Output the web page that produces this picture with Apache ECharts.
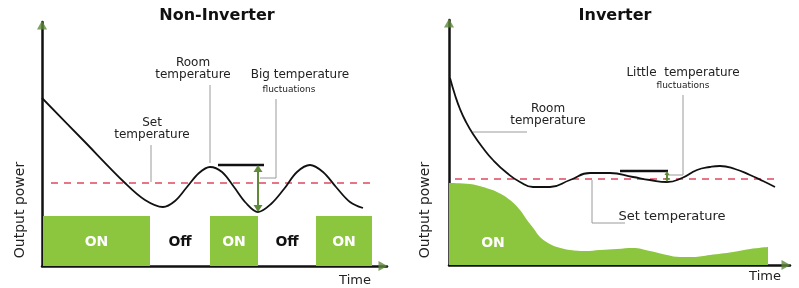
<!DOCTYPE html>
<html>
<head>
<meta charset="utf-8">
<script src="https://cdn.jsdelivr.net/npm/echarts@6/dist/echarts.min.js"></script>
<style>
  html, body { margin: 0; padding: 0; background: #fff; }
  #chart { width: 799px; height: 288px; }
</style>
</head>
<body>
<div id="chart"></div>
<script>
// values: [time, level] in arbitrary units
// --- Non-Inverter ---
const nonInvRoomTemp = [[0,168],[41,126],[83,83],[103,66],[121,59],[133,65],[145,79],[157,93],[168,99],[180,94],[192,79],[204,63],[216,54],[229,62],[242,77],[255,94],[268,101],[281,94],[294,79],[308,64],[321,58]];
const nonInvSetTemp = [[9,83],[330,83]];
const nonInvOn = [[1,108],[168,216],[274,330]];
const nonInvOff = [[108,168],[216,274]];
const nonInvOnLevel = 50;
const nonInvSwingBar = [[176,101],[222,101]];
const nonInvSwing = [[216,97.5],[216,57.5]];
const nonInvSetLeader = [[109,121],[109,84]];
const nonInvRoomLeader = [[168,181],[168,103]];
const nonInvBigLeader = [[234,167],[234,88],[218,88]];

// --- Inverter ---
const invRoomTemp = [[1,187],[6,170],[11,156],[17,143],[24,131],[34,117],[44,105],[58,92],[71,83],[84,78],[101,78],[121,85],[141,92],[161,92],[184,88],[201,85],[218,83],[233,87],[248,95],[261,98],[271,99],[286,96],[301,90],[314,84],[326,78]];
const invSetTemp = [[6,86],[328,86]];
const invPower = [[0,82],[21,81],[34,78],[48,73],[61,65],[71,55],[78,45],[85,36],[91,28],[99,22],[108,18],[121,15],[136,14],[151,15],[168,16],[184,17],[201,14],[218,10],[231,8],[244,8],[261,10],[284,13],[301,16],[319,18]];
const invSwingBar = [[171,94],[219,94]];
const invSwing = [[218,92],[218,85]];
const invRoomLeader = [[24,133],[78,133]];
const invSetLeader = [[143,85],[143,42],[176,42]];
const invLittleLeader = [[234,170],[234,90],[219,90]];

const FONT = 'DejaVu Sans';
const GREEN = '#8cc63f';
const DARK_GREEN = '#5e8a3a';
const RED = '#de4a60';
const LEADER = '#9a9a9a';

const chart = echarts.init(document.getElementById('chart'));

function axisPair(max, idx) {
  return {
    type: 'value', min: 0, max: max, gridIndex: idx,
    axisLine: { show: true, onZero: false, lineStyle: { color: '#111', width: 2.5 } },
    axisTick: { show: false }, axisLabel: { show: false }, splitLine: { show: false }
  };
}

function line(data, xi, color, width, extra) {
  return Object.assign({
    type: 'line', data: data, xAxisIndex: xi, yAxisIndex: xi,
    symbol: 'none', animation: false, silent: true,
    lineStyle: { color: color, width: width }
  }, extra || {});
}

function arrow(data, xi, size) {
  return {
    type: 'line', xAxisIndex: xi, yAxisIndex: xi, animation: false, silent: true,
    showSymbol: true, symbol: 'triangle', symbolSize: size,
    lineStyle: { color: DARK_GREEN, width: 2 },
    itemStyle: { color: DARK_GREEN },
    data: [
      { value: data[0], symbolRotate: 0 },
      { value: data[1], symbolRotate: 180 }
    ]
  };
}

function axisArrows(xi, xEnd, yEnd) {
  return {
    type: 'scatter', xAxisIndex: xi, yAxisIndex: xi, clip: false, animation: false, silent: true,
    symbol: 'triangle', symbolSize: [10, 9], itemStyle: { color: DARK_GREEN }, z: 10,
    data: [
      { value: [0, yEnd], symbolRotate: 0 },
      { value: [xEnd, 0], symbolRotate: -90 }
    ]
  };
}

function stateBlocks(segs, on) {
  return {
    type: 'custom', xAxisIndex: 0, yAxisIndex: 0, animation: false, silent: true,
    data: segs,
    renderItem: function (params, api) {
      const p0 = api.coord([api.value(0), nonInvOnLevel]);
      const p1 = api.coord([api.value(1), 0]);
      const children = [];
      if (on) {
        children.push({ type: 'rect', shape: { x: p0[0], y: p0[1], width: p1[0] - p0[0], height: p1[1] - p0[1] }, style: { fill: GREEN } });
      }
      children.push({
        type: 'text',
        style: {
          text: on ? 'ON' : 'Off', x: (p0[0] + p1[0]) / 2, y: (p0[1] + p1[1]) / 2 + 1,
          align: 'center', verticalAlign: 'middle',
          fill: on ? '#fff' : '#111', font: 'bold 14px "' + FONT + '"'
        }
      });
      return { type: 'group', children: children };
    }
  };
}

function txt(text, x, y, size, opts) {
  return Object.assign({
    type: 'text', x: x, y: y, z: 20, silent: true,
    style: {
      text: text, align: 'center', verticalAlign: 'middle',
      fill: '#222', font: size + 'px "' + FONT + '"', lineHeight: size + 0.5
    }
  }, opts || {});
}

function boldTxt(text, x, y, size, color) {
  return txt(text, x, y, size, {
    style: { text: text, align: 'center', verticalAlign: 'middle', fill: color, font: 'bold ' + size + 'px "' + FONT + '"' }
  });
}

chart.setOption({
  animation: false,
  grid: [
    { left: 42, top: 22, width: 345, height: 244 },
    { left: 449, top: 20, width: 341, height: 245 }
  ],
  xAxis: [axisPair(345, 0), axisPair(341, 1)],
  yAxis: [axisPair(244, 0), axisPair(245, 1)],
  series: [
    stateBlocks(nonInvOn, true),
    stateBlocks(nonInvOff, false),
    line(nonInvSetTemp, 0, RED, 1.5, { lineStyle: { color: RED, width: 1.5, type: [7, 6] } }),
    line(nonInvSetLeader, 0, LEADER, 1),
    line(nonInvRoomLeader, 0, LEADER, 1),
    line(nonInvBigLeader, 0, LEADER, 1),
    line(nonInvRoomTemp, 0, '#111', 1.8, { smooth: 0.35 }),
    line(nonInvSwingBar, 0, '#111', 2.5),
    arrow(nonInvSwing, 0, [9, 7]),
    axisArrows(0, 341, 241),

    line(invPower, 1, GREEN, 0, { smooth: 0.4, areaStyle: { color: GREEN, opacity: 1 } }),
    line(invSetTemp, 1, RED, 1.5, { lineStyle: { color: RED, width: 1.5, type: [7, 6] } }),
    line(invRoomLeader, 1, LEADER, 1),
    line(invSetLeader, 1, LEADER, 1),
    line(invLittleLeader, 1, LEADER, 1),
    line(invRoomTemp, 1, '#111', 1.8, { smooth: 0.5 }),
    line(invSwingBar, 1, '#111', 2.5),
    arrow(invSwing, 1, [5, 4]),
    axisArrows(1, 337, 242)
  ],
  graphic: [
    boldTxt('Non-Inverter', 217, 16, 16, '#111'),
    boldTxt('Inverter', 615, 16, 16, '#111'),
    txt('Room\ntemperature', 193, 69, 12),
    txt('Big temperature', 300, 75, 12),
    txt('fluctuations', 289, 90, 9),
    txt('Set\ntemperature', 152, 129, 12),
    txt('Output power', 20, 210, 14, { rotation: Math.PI / 2 }),
    txt('Time', 355, 281, 13),
    txt('Room\ntemperature', 548, 115, 12),
    txt('Little  temperature', 683, 73, 12),
    txt('fluctuations', 683, 86, 9),
    txt('Set temperature', 672, 217, 13),
    txt('Output power', 425, 210, 14, { rotation: Math.PI / 2 }),
    txt('Time', 765, 277, 13),
    boldTxt('ON', 493, 243, 14, '#fff')
  ]
});
</script>
</body>
</html>
